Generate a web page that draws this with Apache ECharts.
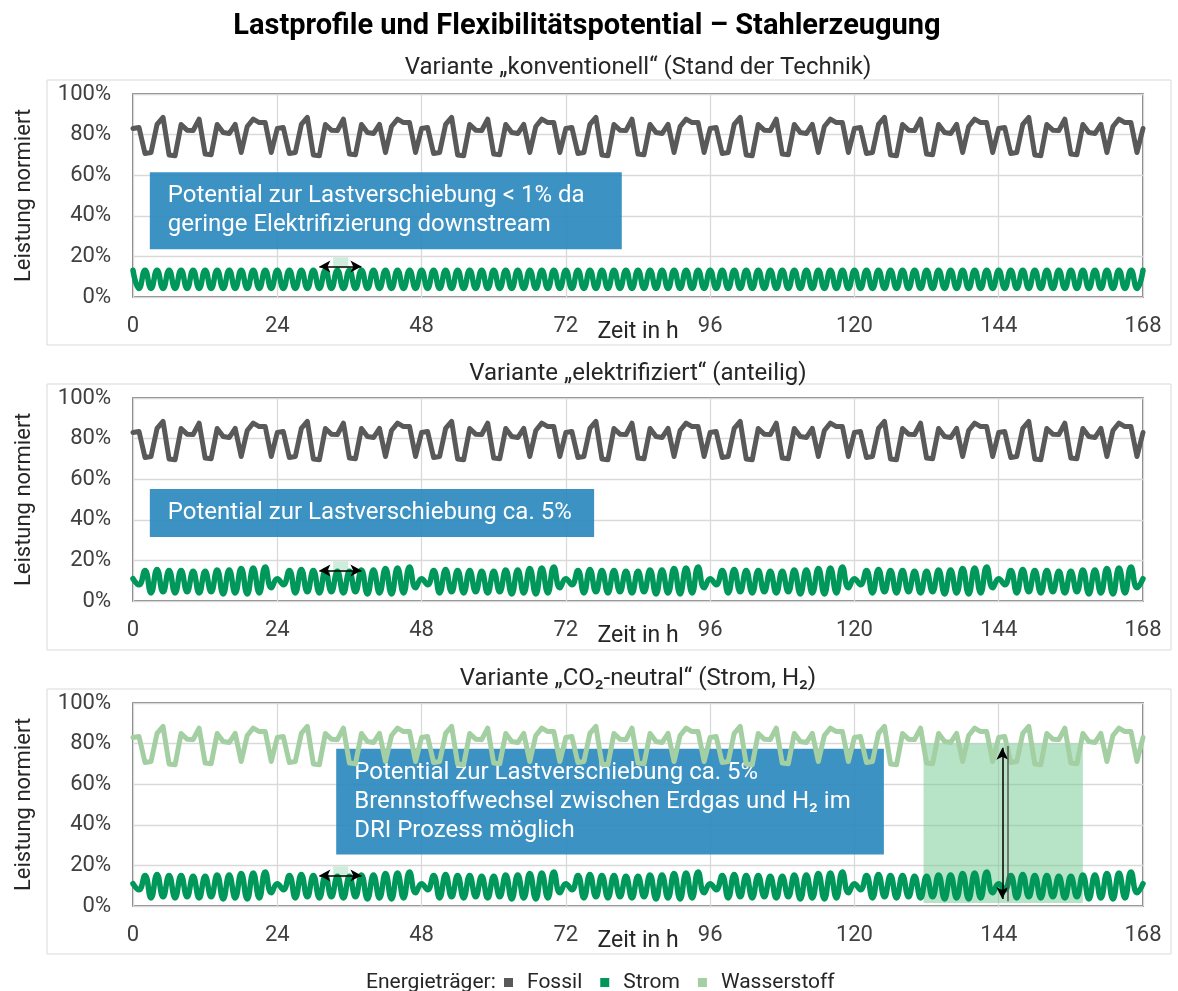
<!DOCTYPE html>
<html>
<head>
<meta charset="utf-8">
<script src="https://cdn.jsdelivr.net/npm/echarts@6/dist/echarts.min.js"></script>
<style>
  html, body { margin: 0; padding: 0; background: #ffffff; }
  #chart { width: 1178px; height: 991px; }
</style>
</head>
<body>
<div id="chart"></div>
<script>
// Typical day (hours 0..23) of each load profile in percent of rated load;
// the week is the same day repeated seven times.
const fossilDay = [83, 83.5, 70.7, 71.2, 85, 88.5, 70, 69.6, 85, 82.2, 82, 87.6,
                   70.4, 70.1, 85, 81, 80.5, 85, 71.2, 84, 87.6, 85.9, 85.9, 71.2];
const wasserstoffDay = [83, 83.5, 70.7, 71.2, 85, 88.5, 70, 69.6, 85, 82.2, 82, 87.6,
                        70.4, 70.1, 85, 81, 80.5, 85, 71.2, 84, 87.6, 85.9, 85.9, 71.2];
const stromDayKonventionell = [13.2, 4.2, 13.2, 4.2, 13.2, 4.2, 13.2, 4.2, 13.2, 4.2, 13.2, 4.2,
                               13.2, 4.2, 13.2, 4.2, 13.2, 4.2, 13.2, 4.2, 13.2, 4.2, 13.2, 4.2];
const stromDayElektrifiziert = [11, 8, 15, 4, 15.5, 4.5, 15, 4, 15, 4.5, 14.6, 4,
                                14.6, 4.5, 15.3, 3.5, 15.3, 4, 16, 3.5, 16.2, 4, 16.8, 6.5];
const stromDayNeutral = [11, 8, 15, 4, 15.5, 4.5, 15, 4, 15, 4.5, 14.6, 4,
                         14.6, 4.5, 15.3, 3.5, 15.3, 4, 16, 3.5, 16.2, 4, 16.8, 6.5];

const HOURS = 168;
const X_STEP = 24;
const Y_MAX = 100;
const Y_STEP = 20;

const mainTitle = 'Lastprofile und Flexibilitätspotential – Stahlerzeugung';
const variantTitles = [
  'Variante „konventionell“ (Stand der Technik)',
  'Variante „elektrifiziert“ (anteilig)',
  'Variante „CO\u2082-neutral“ (Strom, H\u2082)'
];
const boxTexts = [
  'Potential zur Lastverschiebung < 1% da\ngeringe Elektrifizierung downstream',
  'Potential zur Lastverschiebung ca. 5%',
  'Potential zur Lastverschiebung ca. 5%\nBrennstoffwechsel zwischen Erdgas und H\u2082 im\nDRI Prozess möglich'
];
// text boxes: [hour from, % top, hour to, % bottom]
const boxAreas = [
  [2.8, 61.4, 81.3, 23.5],
  [2.8, 55.2, 76.7, 31.5],
  [33.8, 77.5, 124.9, 25.4]
];
// small shift marker: arrow [hour from, hour to, %] and shaded patch [h0, %top, h1, %bottom]
const shiftArrow = [31, 38, 15];
const shiftPatch = [33.3, 19.5, 35.8, 14];
// fuel switch window in the CO2-neutral variant
const switchWindow = [131.5, 80, 158, 1.5];
const switchArrow = [144.6, 3.5, 78];
const switchEdge = [145.5, 2.3, 78.8];

const seriesNames = ['Fossil', 'Strom', 'Wasserstoff'];
const COLORS = { Fossil: '#595959', Strom: '#00985a', Wasserstoff: '#a3cfa3' };

function week(day) {
  const pts = [];
  for (let h = 0; h <= HOURS; h++) pts.push([h, day[h % 24]]);
  return pts;
}

const FONT = 'Roboto, "Noto Sans", sans-serif';
const gridTops = [94, 398, 703];
const GRID_LEFT = 133, GRID_W = 1010, GRID_H = 203;

const grids = gridTops.map(t => ({
  left: GRID_LEFT, top: t, width: GRID_W, height: GRID_H,
  show: true, borderColor: '#595959', borderWidth: 1.5, backgroundColor: 'transparent'
}));

const xAxes = gridTops.map((t, i) => ({
  type: 'value', gridIndex: i, min: 0, max: HOURS, interval: X_STEP,
  name: 'Zeit in h', nameLocation: 'middle', nameGap: 24, nameMoveOverlap: false,
  nameTextStyle: { fontSize: 23, color: '#262626', fontFamily: FONT },
  axisLine: { show: false }, axisTick: { show: false },
  axisLabel: { margin: 18, fontSize: 22, color: '#404040', fontFamily: FONT },
  splitLine: { show: true, lineStyle: { color: '#d9d9d9', width: 1.3 } }
}));

const yAxes = gridTops.map((t, i) => ({
  type: 'value', gridIndex: i, min: 0, max: Y_MAX, interval: Y_STEP,
  name: 'Leistung normiert', nameLocation: 'middle', nameGap: 98, nameMoveOverlap: false,
  nameTextStyle: { fontSize: 22, color: '#262626', fontFamily: FONT },
  axisLine: { show: false }, axisTick: { show: false },
  axisLabel: { margin: 22, fontSize: 22, color: '#404040', fontFamily: FONT, formatter: '{value}%' },
  splitLine: { show: true, lineStyle: { color: '#d9d9d9', width: 1.3 } }
}));

function lineSeries(name, data, panel, width, smooth, z) {
  return {
    name, type: 'line', xAxisIndex: panel, yAxisIndex: panel,
    data: week(data), showSymbol: false, smooth, z,
    lineStyle: { color: COLORS[name], width, join: 'round', cap: 'round' },
    itemStyle: { color: COLORS[name] },
    emphasis: { disabled: true }, animation: false
  };
}

function boxSeries(panel) {
  const a = boxAreas[panel];
  return {
    type: 'line', xAxisIndex: panel, yAxisIndex: panel, data: [], z: 5, silent: true,
    markArea: {
      silent: true,
      itemStyle: { color: 'rgba(40,134,190,0.9)' },
      label: {
        show: true, position: 'insideLeft', distance: 18, color: '#ffffff',
        fontSize: 24, lineHeight: 29, fontFamily: FONT, align: 'left'
      },
      data: [[{ name: boxTexts[panel], xAxis: a[0], yAxis: a[1] }, { xAxis: a[2], yAxis: a[3] }]]
    }
  };
}

function shiftSeries(panel) {
  return {
    type: 'line', xAxisIndex: panel, yAxisIndex: panel, data: [], z: 3, silent: true,
    markArea: {
      silent: true, itemStyle: { color: 'rgba(160,220,185,0.5)' }, label: { show: false },
      data: [[{ xAxis: shiftPatch[0], yAxis: shiftPatch[1] }, { xAxis: shiftPatch[2], yAxis: shiftPatch[3] }]]
    }
  };
}

function shiftArrowSeries(panel) {
  return {
    type: 'line', xAxisIndex: panel, yAxisIndex: panel, data: [], z: 6, silent: true,
    markLine: {
      silent: true, symbol: ['arrow', 'arrow'], symbolSize: [9, 11],
      lineStyle: { color: '#000000', width: 1.5, type: 'solid' }, label: { show: false },
      data: [[{ coord: [shiftArrow[0], shiftArrow[2]] }, { coord: [shiftArrow[1], shiftArrow[2]] }]]
    }
  };
}

const series = [];
// Variant 1: conventional
series.push(lineSeries('Fossil', fossilDay, 0, 5, false, 2));
series.push(shiftSeries(0));
series.push(lineSeries('Strom', stromDayKonventionell, 0, 5.5, true, 4));
series.push(boxSeries(0));
series.push(shiftArrowSeries(0));
// Variant 2: electrified
series.push(lineSeries('Fossil', fossilDay, 1, 5, false, 2));
series.push(shiftSeries(1));
series.push(lineSeries('Strom', stromDayElektrifiziert, 1, 5.5, true, 4));
series.push(boxSeries(1));
series.push(shiftArrowSeries(1));
// Variant 3: CO2-neutral
series.push(lineSeries('Wasserstoff', wasserstoffDay, 2, 5, false, 2));
series.push({
  type: 'line', xAxisIndex: 2, yAxisIndex: 2, data: [], z: 3, silent: true,
  markArea: {
    silent: true, itemStyle: { color: 'rgba(111,201,143,0.5)' }, label: { show: false },
    data: [[{ xAxis: switchWindow[0], yAxis: switchWindow[1] }, { xAxis: switchWindow[2], yAxis: switchWindow[3] }]]
  }
});
series.push(shiftSeries(2));
series.push(lineSeries('Strom', stromDayNeutral, 2, 5.5, true, 4));
series.push(boxSeries(2));
series.push(shiftArrowSeries(2));
series.push({
  type: 'line', xAxisIndex: 2, yAxisIndex: 2, data: [], z: 6, silent: true,
  markLine: {
    silent: true, label: { show: false },
    data: [
      [{ coord: [switchArrow[0], switchArrow[1]], symbol: 'arrow', symbolSize: [9, 12], lineStyle: { color: '#000000', width: 1.5, type: 'solid' } },
       { coord: [switchArrow[0], switchArrow[2]], symbol: 'arrow', symbolSize: [9, 12] }],
      [{ coord: [switchEdge[0], switchEdge[1]], symbol: 'none', lineStyle: { color: '#595959', width: 1.5, type: 'solid' } },
       { coord: [switchEdge[0], switchEdge[2]], symbol: 'none' }]
    ]
  }
});

const panelBoxes = [[47, 80, 1124, 265], [47, 384, 1124, 266], [47, 689, 1124, 265]];
const graphic = [];
panelBoxes.forEach(b => graphic.push({
  type: 'rect', silent: true, z: -10,
  shape: { x: b[0], y: b[1], width: b[2], height: b[3] },
  style: { fill: 'none', stroke: '#d9d9d9', lineWidth: 1 }
}));
const titleYs = [68, 374, 679];
variantTitles.forEach((t, i) => graphic.push({
  type: 'text', silent: true, x: GRID_LEFT + GRID_W / 2, y: titleYs[i],
  style: { text: t, fill: '#262626', font: '24px ' + FONT, textAlign: 'center', textVerticalAlign: 'middle' }
}));
graphic.push({
  type: 'text', silent: true, x: 587, y: 27,
  style: { text: mainTitle, fill: '#000000', font: 'bold 29px ' + FONT, textAlign: 'center', textVerticalAlign: 'middle' }
});
graphic.push({
  type: 'text', silent: true, x: 366, y: 983,
  style: { text: 'Energieträger:', fill: '#262626', font: '21px ' + FONT, textAlign: 'left', textVerticalAlign: 'middle' }
});

const chart = echarts.init(document.getElementById('chart'), null, { renderer: 'canvas' });
chart.setOption({
  backgroundColor: '#ffffff',
  animation: false,
  textStyle: { fontFamily: FONT },
  grid: grids,
  xAxis: xAxes,
  yAxis: yAxes,
  legend: {
    data: seriesNames, left: 499, top: 967, icon: 'rect', itemWidth: 9, itemHeight: 9, itemGap: 18,
    selectedMode: false,
    textStyle: { fontSize: 21, color: '#262626', fontFamily: FONT, padding: [0, 0, 0, 9] }
  },
  series,
  graphic
});
</script>
</body>
</html>
